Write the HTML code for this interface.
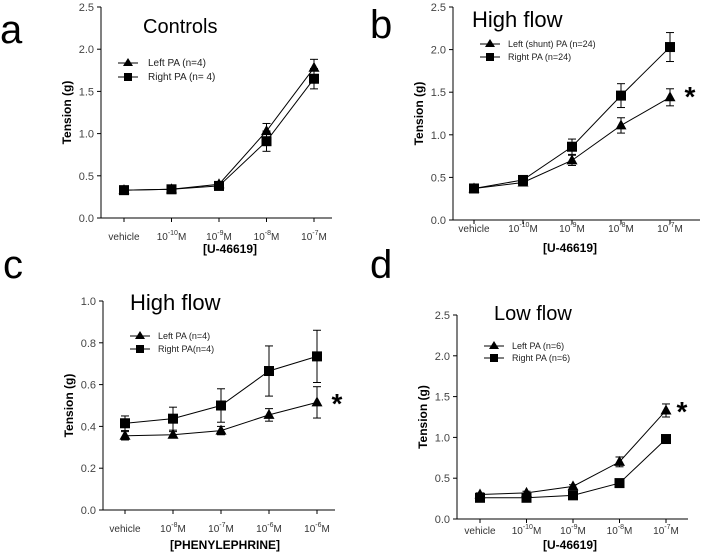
<!DOCTYPE html>
<html><head><meta charset="utf-8"><style>
body{margin:0;background:#fff;}
svg{display:block;font-family:"Liberation Sans",Arial,sans-serif;}
</style></head><body>
<svg id="fig" width="701" height="556" viewBox="0 0 701 556"></svg>
<script>
const categoriesA=["vehicle","10^-10M","10^-9M","10^-8M","10^-7M"];
const leftA=[0.33,0.34,0.40,1.03,1.78];
const leftErrA=[0.03,0.03,0.02,0.09,0.10];
const rightA=[0.33,0.34,0.38,0.91,1.65];
const rightErrA=[0.02,0.02,0.02,0.12,0.12];
const leftB=[0.37,0.44,0.70,1.11,1.44];
const leftErrB=[0.02,0.02,0.06,0.09,0.10];
const rightB=[0.37,0.47,0.86,1.46,2.03];
const rightErrB=[0.02,0.02,0.09,0.14,0.17];
const categoriesC=["vehicle","10^-8M","10^-7M","10^-6M","10^-6M"];
const leftC=[0.355,0.36,0.38,0.455,0.515];
const leftErrC=[0.02,0.015,0.02,0.03,0.075];
const rightC=[0.415,0.437,0.50,0.665,0.735];
const rightErrC=[0.035,0.055,0.08,0.12,0.125];
const leftD=[0.30,0.32,0.40,0.70,1.33];
const leftErrD=[0.02,0.02,0.02,0.06,0.08];
const rightD=[0.26,0.26,0.29,0.44,0.98];
const rightErrD=[0.01,0.01,0.01,0.02,0.05];
const ticks25=[0,0.5,1.0,1.5,2.0,2.5];
const ticks10=[0,0.2,0.4,0.6,0.8,1.0];

const NS="http://www.w3.org/2000/svg";
const svg=document.getElementById('fig');
function el(tag,attrs,parent,text){const e=document.createElementNS(NS,tag);for(const k in attrs)e.setAttribute(k,attrs[k]);if(text!==undefined)e.textContent=text;(parent||svg).appendChild(e);return e;}

function catLabel(g,x,y,lab){
  if(lab==="vehicle"){const t=el('text',{x:x,y:y,'font-size':10,'text-anchor':'middle',fill:'#333'},g,'vehicle');return;}
  const m=lab.match(/10\^(-?\d+)M/);
  const t=el('text',{x:x,y:y,'font-size':10,'text-anchor':'middle',fill:'#333'},g);
  
  el('tspan',{},t,'10');el('tspan',{dy:-5,'font-size':7},t,m[1]);el('tspan',{dy:5},t,'M');
}

function panel(p){
  const g=el('g',{});
  
  
  const ys=v=>p.y0+(p.y1-p.y0)*(v-p.min)/(p.max-p.min);
  const xs=i=>p.xs0+i*p.dx;
  // axes
  const ya=el('line',{x1:p.ax,y1:p.y1,x2:p.ax,y2:p.y0,stroke:'#000','stroke-width':1},g);
  
  const xa=el('line',{x1:p.ax,y1:p.y0,x2:p.axEnd,y2:p.y0,stroke:'#000','stroke-width':1},g);
  
  p.ticks.forEach(v=>{
    el('line',{x1:p.ax-4,y1:ys(v),x2:p.ax,y2:ys(v),stroke:'#000'},g);
    const t=el('text',{x:p.ax-7,y:ys(v)+4,'font-size':11,'text-anchor':'end',fill:'#444'},g,v.toFixed(1));
    
  });
  p.cats.forEach((c,i)=>{
    el('line',{x1:xs(i),y1:p.y0,x2:xs(i),y2:p.y0+4,stroke:'#000'},g);
    catLabel(g,xs(i),p.y0+p.tickDy,c);
  });
  const xt=el('text',{x:p.xtX,y:p.xtY,'font-size':12,'font-weight':'bold','text-anchor':'middle'},g,p.xtitle);
  
  const yt=el('text',{x:0,y:0,'font-size':12,'font-weight':'bold','text-anchor':'middle',transform:`translate(${p.ax-30},${(p.y0+p.y1)/2}) rotate(-90)`},g,'Tension (g)');
  
  const tt=el('text',{x:p.tX,y:p.tY,'font-size':p.tSize,'text-anchor':'start'},g,p.title);
  
  const lt=el('text',{x:p.lX,y:p.lY,'font-size':40},g,p.letter);
  
  // series
  [[p.right,p.rightErr,'square','right-series'],[p.left,p.leftErr,'tri','left-series']].forEach(([vals,errs,sh,nm])=>{
    const sg=el('g',{},g);
    
    const pl=el('polyline',{points:vals.map((v,i)=>xs(i)+','+ys(v)).join(' '),fill:'none',stroke:'#000','stroke-width':1},sg);
    
    vals.forEach((v,i)=>{
      const x=xs(i),hi=ys(v+errs[i]),lo=ys(v-errs[i]);
      el('line',{x1:x,y1:hi,x2:x,y2:lo,stroke:'#000'},sg);
      el('line',{x1:x-4,y1:hi,x2:x+4,y2:hi,stroke:'#000'},sg);
      el('line',{x1:x-4,y1:lo,x2:x+4,y2:lo,stroke:'#000'},sg);
      let m;
      if(sh==='square')m=el('rect',{x:x-5,y:ys(v)-5,width:10,height:10,fill:'#000'},sg);
      else m=el('polygon',{points:`${x},${ys(v)-6} ${x-5.5},${ys(v)+4} ${x+5.5},${ys(v)+4}`,fill:'#000'},sg);
      
    });
  });
  // legend
  const lg=el('g',{},g);
  
  [[p.leg[0],'tri'],[p.leg[1],'square']].forEach(([txt,sh],k)=>{
    const y=p.legY+k*p.legGap,x=p.legX;
    const e=el('g',{},lg);
    
    el('line',{x1:x,y1:y,x2:x+20,y2:y,stroke:'#000'},e);
    if(sh==='square')el('rect',{x:x+6,y:y-4,width:8,height:8,fill:'#000'},e);
    else el('polygon',{points:`${x+10},${y-5} ${x+5},${y+3} ${x+15},${y+3}`,fill:'#000'},e);
    el('text',{x:x+p.legTx,y:y+3,'font-size':p.legSize,fill:'#222'},e,txt);
  });
  if(p.star){const s=el('text',{x:p.star[0],y:p.star[1],'font-size':28,'font-weight':'bold','text-anchor':'middle'},g,'*');
    }
}

panel({name:'panel-a',ax:101,axEnd:332,y0:218,y1:7,min:0,max:2.5,ticks:ticks25,xs0:124,dx:47.5,cats:categoriesA,tickDy:22,
 xtitle:'[U-46619]',xtX:230,xtY:253,title:'Controls',tX:143,tY:33,tSize:20,letter:'a',lX:0,lY:43,
 left:leftA,leftErr:leftErrA,right:rightA,rightErr:rightErrA,leg:['Left PA (n=4)','Right PA (n= 4)'],legX:118,legY:63,legGap:14,legTx:30,legSize:10,star:null});
panel({name:'panel-b',ax:453,axEnd:700,y0:220,y1:7,min:0,max:2.5,ticks:ticks25,xs0:474,dx:49,cats:categoriesA,tickDy:12,
 xtitle:'[U-46619]',xtX:570,xtY:252,title:'High flow',tX:472,tY:27,tSize:22,letter:'b',lX:370,lY:38,
 left:leftB,leftErr:leftErrB,right:rightB,rightErr:rightErrB,leg:['Left (shunt) PA  (n=24)','Right PA (n=24)'],legX:480,legY:44,legGap:13,legTx:28,legSize:9,star:[690,106]});
panel({name:'panel-c',ax:103,axEnd:335,y0:510,y1:301,min:0,max:1.0,ticks:ticks10,xs0:125,dx:48,cats:categoriesC,tickDy:22,
 xtitle:'[PHENYLEPHRINE]',xtX:225,xtY:549,title:'High flow',tX:130,tY:310,tSize:22,letter:'c',lX:3,lY:278,
 left:leftC,leftErr:leftErrC,right:rightC,rightErr:rightErrC,leg:['Left PA  (n=4)',' Right PA(n=4)'],legX:130,legY:336,legGap:13,legTx:28,legSize:9,star:[337,413]});
panel({name:'panel-d',ax:457,axEnd:688,y0:519,y1:315,min:0,max:2.5,ticks:ticks25,xs0:480,dx:46.5,cats:categoriesA,tickDy:15,
 xtitle:'[U-46619]',xtX:570,xtY:549,title:'Low flow',tX:494,tY:320,tSize:20,letter:'d',lX:370,lY:278,
 left:leftD,leftErr:leftErrD,right:rightD,rightErr:rightErrD,leg:['Left PA   (n=6)',' Right PA  (n=6)'],legX:484,legY:346,legGap:12,legTx:28,legSize:9,star:[682,421]});
</script>
</body></html>
